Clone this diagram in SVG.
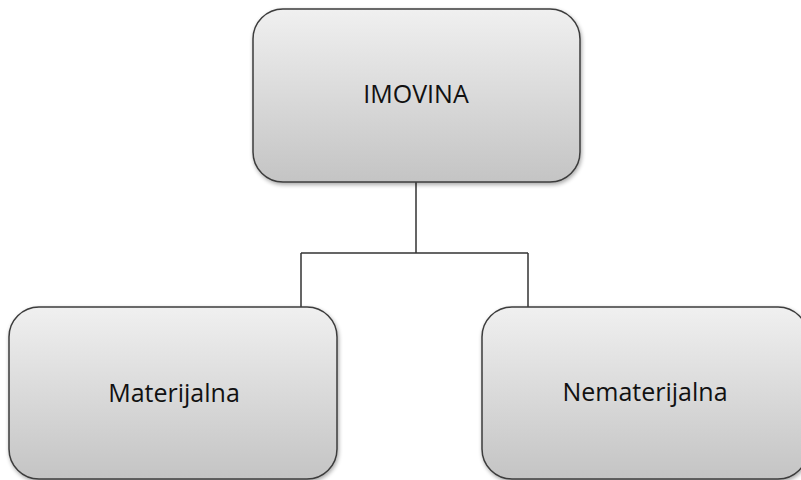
<svg xmlns="http://www.w3.org/2000/svg" width="801" height="480" viewBox="0 0 801 480">
<defs>
<linearGradient id="g" x1="0" y1="0" x2="0" y2="1">
<stop offset="0" stop-color="#f0f0f0"/>
<stop offset="1" stop-color="#c4c4c4"/>
</linearGradient>
<filter id="sh" x="-10%" y="-10%" width="120%" height="120%">
<feGaussianBlur in="SourceAlpha" stdDeviation="2"/>
<feOffset dx="1" dy="2" result="b"/>
<feComponentTransfer><feFuncA type="linear" slope="0.35"/></feComponentTransfer>
<feMerge><feMergeNode/><feMergeNode in="SourceGraphic"/></feMerge>
</filter>
</defs>
<style>
.box{fill:url(#g);stroke:#3c3c3c;stroke-width:1.5;filter:url(#sh)}
.t{font-family:"Open Sans","Liberation Sans",sans-serif;font-size:25px;fill:#111;text-anchor:middle}
.c{fill:none;stroke:#333;stroke-width:1.5}
</style>
<rect width="801" height="480" fill="#fff"/>
<g id="connectors">
<path class="c" d="M416 182V253M301 253H528M301 253V307M528 253V307"/>
</g>
<g id="imovina">
<rect class="box" x="253" y="9" width="327" height="173" rx="30"/>
<text class="t" x="416" y="103">IMOVINA</text>
</g>
<g id="materijalna">
<rect class="box" x="9" y="307" width="328" height="172" rx="30"/>
<text class="t" x="174" y="402">Materijalna</text>
</g>
<g id="nematerijalna">
<rect class="box" x="482" y="307" width="326" height="172" rx="30"/>
<text class="t" x="645" y="401">Nematerijalna</text>
</g>
</svg>
